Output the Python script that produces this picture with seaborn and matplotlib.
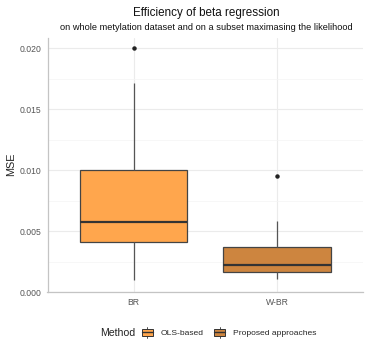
import numpy as np
import pandas as pd
import matplotlib
matplotlib.use("Agg")
import matplotlib.pyplot as plt
from matplotlib.legend_handler import HandlerBase
from matplotlib.patches import Rectangle
from matplotlib.lines import Line2D
from matplotlib.ticker import MultipleLocator, FormatStrFormatter
import seaborn as sns

# values (MSE per method)
br_mse = [0.00096, 0.0030, 0.00411, 0.0050, 0.00576, 0.0080, 0.01001, 0.01714, 0.0200]
wbr_mse = [0.0011, 0.0014, 0.00164, 0.0019, 0.00219, 0.0030, 0.00368, 0.00584, 0.00954]
categories = ["BR", "W-BR"]
methods = ["OLS-based", "Proposed approaches"]
colors = ["#FFA64D", "#CD853F"]

df = pd.DataFrame({
    "model": ["BR"] * len(br_mse) + ["W-BR"] * len(wbr_mse),
    "MSE": br_mse + wbr_mse,
    "Method": [methods[0]] * len(br_mse) + [methods[1]] * len(wbr_mse),
})

sns.set_style("white")
plt.rcParams["font.family"] = ["Liberation Sans", "DejaVu Sans"]

fig = plt.figure(figsize=(3.65, 3.4), dpi=100)
W, H = 365, 340
ax = fig.add_axes([47.5 / W, (H - 292) / H, (363 - 47.5) / W, (292 - 37.5) / H])

sns.boxplot(data=df, x="model", y="MSE", hue="Method", palette=colors,
            order=categories, hue_order=methods, dodge=False, width=0.75,
            saturation=1, linecolor="#444444", linewidth=0.9, legend=False, ax=ax,
            showcaps=False,
            flierprops=dict(marker="o", markersize=2.2, markerfacecolor="#222222",
                            markeredgecolor="#222222"),
            whiskerprops=dict(color="#555555", linewidth=0.9),
            medianprops=dict(color="#333333", linewidth=1.6),
            zorder=3)

ax.set_xlim(-0.6, 1.6)
ax.set_ylim(0.0, 0.0209)
ax.yaxis.set_major_locator(MultipleLocator(0.005))
ax.yaxis.set_minor_locator(MultipleLocator(0.0025))
ax.yaxis.set_major_formatter(FormatStrFormatter("%.3f"))
ax.grid(True, which="major", color="#EBEBEB", linewidth=0.8, zorder=0)
ax.grid(True, which="minor", axis="y", color="#F4F4F4", linewidth=0.5, zorder=0)
ax.set_axisbelow(True)
for s in ["top", "right"]:
    ax.spines[s].set_visible(False)
for s in ["left", "bottom"]:
    ax.spines[s].set_color("#C4C4C4")
    ax.spines[s].set_linewidth(0.9)
ax.tick_params(axis="both", which="major", length=2.5, width=0.6, color="#C4C4C4",
               labelsize=6.2, labelcolor="#555555", pad=2)
ax.tick_params(axis="y", which="minor", length=0)
ax.set_xlabel("")
ax.set_ylabel("MSE", fontsize=7.8, color="#222222", labelpad=2)

fig.text(206 / W, 1 - 13 / H, "Efficiency of beta regression", ha="center", va="center",
         fontsize=8.4, color="#111111")
fig.text(206 / W, 1 - 27 / H, "on whole metylation dataset and on a subset maximasing the likelihood",
         ha="center", va="center", fontsize=6.7, color="#111111")


class BoxKey(HandlerBase):
    # small ggplot-like boxplot glyph for the legend
    def create_artists(self, legend, orig_handle, xd, yd, width, height, fontsize, trans):
        fc = orig_handle.get_facecolor()
        w = width * 0.9
        x0 = -xd + (width - w) / 2
        y0 = -yd
        rect = Rectangle((x0, y0 + height * 0.05), w, height * 0.9, facecolor=fc,
                         edgecolor="#333333", linewidth=0.7, transform=trans)
        mid = Line2D([x0, x0 + w], [y0 + height / 2] * 2, color="#333333", linewidth=1.0,
                     transform=trans)
        top = Line2D([x0 + w / 2] * 2, [y0 + height * 0.95, y0 + height * 1.3],
                     color="#333333", linewidth=0.6, transform=trans)
        bot = Line2D([x0 + w / 2] * 2, [y0 - height * 0.3, y0 + height * 0.05],
                     color="#333333", linewidth=0.6, transform=trans)
        return [rect, mid, top, bot]


handles = [Rectangle((0, 0), 1, 1, facecolor=c) for c in colors]
fig.text(100 / W, 1 - 333 / H, "Method", ha="left", va="center", fontsize=7.6, color="#222222")
leg = fig.legend(handles, methods, loc="center left", bbox_to_anchor=(141 / W, 1 - 333 / H),
                 ncol=2, frameon=False, fontsize=6.1, handler_map={Rectangle: BoxKey()},
                 handlelength=1.45, handleheight=0.95, handletextpad=0.85, columnspacing=1.2,
                 borderpad=0, borderaxespad=0)

fig.savefig("out.png", dpi=100, facecolor="white")
